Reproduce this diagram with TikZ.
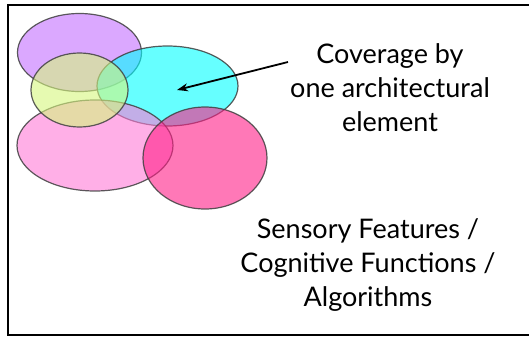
\documentclass[tikz,border=0pt]{standalone}
\usepackage{fontspec}
\setmainfont{Lato}
\usepackage{xcolor}
\usetikzlibrary{arrows.meta}

\definecolor{lilac}{RGB}{195,110,255}
\definecolor{lime}{RGB}{213,247,125}
\definecolor{aqua}{RGB}{0,255,255}
\definecolor{rosy}{RGB}{255,122,215}
\definecolor{hotpink}{RGB}{255,30,135}

\tikzset{
  blob/.style={draw=black!75, line width=1.2pt, fill opacity=0.6, draw opacity=0.85},
  label/.style={align=center, font=\fontsize{27}{34}\selectfont}
}

\begin{document}
\begin{tikzpicture}[x=1pt, y=-1pt]
        \useasboundingbox (0, 0) rectangle (529, 337);
        \draw[line width=2pt] (8, 5.5) rectangle (540, 335);

        % coverage blobs
        \filldraw[blob, fill=lilac] (79.5, 52.5) ellipse (62 and 39);
        \filldraw[blob, fill=aqua] (167.5, 86) ellipse (70.5 and 40);
        \filldraw[blob, fill=rosy] (95, 145.5) ellipse (78 and 45.5);
        \filldraw[blob, fill=lime] (79.5, 90) ellipse (48.5 and 37);
        \filldraw[blob, fill=hotpink] (205, 158) ellipse (62 and 51);

        \node[label] (cover) at (390, 88) {Coverage by\\one architectural\\element};
        \node[label] (space) at (368, 265) {Sensory Features /\\Cognitive Functions /\\Algorithms};

        \coordinate (tail) at (288, 62);
        \coordinate (tip) at (177, 90);
        \draw[-{Stealth[length=11pt, width=8pt]}, line width=1.8pt] (tail) -- (tip);
\end{tikzpicture}
\end{document}
